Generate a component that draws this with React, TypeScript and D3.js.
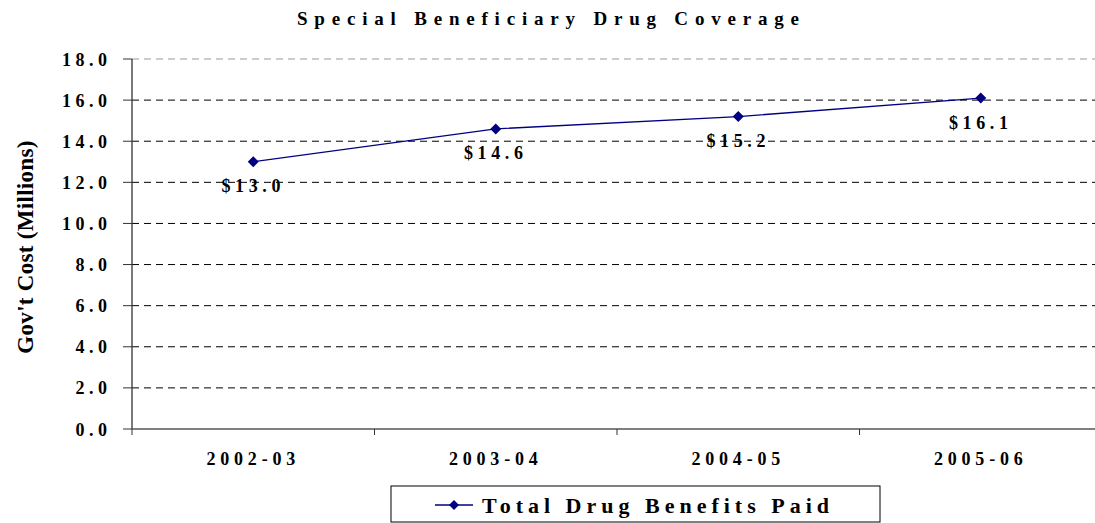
import React from "react";
import * as d3 from "d3";

const categories = ["2002-03", "2003-04", "2004-05", "2005-06"];
const values = [13.0, 14.6, 15.2, 16.1];
const valueLabels = ["$13.0", "$14.6", "$15.2", "$16.1"];
const yTicks = [0, 2, 4, 6, 8, 10, 12, 14, 16, 18];
const title = "Special Beneficiary Drug Coverage";
const yTitle = "Gov't Cost (Millions)";
const seriesName = "Total Drug Benefits Paid";

const W = 1095;
const H = 523;
const FONT = "'Liberation Serif', 'Times New Roman', serif";

export default function App() {
  const left = 132;
  const band = 242.5;
  const x = d3
    .scaleBand<string>()
    .domain(categories)
    .range([left, left + band * categories.length])
    .paddingInner(0)
    .paddingOuter(0);
  const y = d3.scaleLinear().domain([0, 18]).range([429, 59]);
  const cx = (c: string) => (x(c) as number) + x.bandwidth() / 2;

  const line = d3
    .line<number>()
    .x((_, i) => cx(categories[i]))
    .y((v) => y(v));

  const diamond = (px: number, py: number, r = 5.5) =>
    `M${px},${py - r}L${px + r},${py}L${px},${py + r}L${px - r},${py}Z`;

  const plotRight = W;
  const tickSp = 4.5;

  return (
    <svg
      width={W}
      height={H}
      style={{ position: "absolute", left: 0, top: 0, background: "#fff" }}
      fontFamily={FONT}
    >
      <text
        x={548 + 3.4}
        y={25}
        textAnchor="middle"
        fontSize={19}
        fontWeight="bold"
        letterSpacing={6.8}
      >
        {title}
      </text>

      {/* gridlines */}
      {yTicks.slice(1).map((t) => (
        <line
          key={t}
          x1={left}
          x2={plotRight}
          y1={y(t)}
          y2={y(t)}
          stroke={t === 18 ? "#999" : "#000"}
          strokeWidth={1}
          strokeDasharray="7,5"
        />
      ))}

      {/* y axis */}
      <line x1={left} x2={left} y1={y(18)} y2={y(0)} stroke="#333" strokeWidth={1.3} />
      {yTicks.map((t) => (
        <g key={t}>
          <line x1={left - 9} x2={left} y1={y(t)} y2={y(t)} stroke="#333" />
          <text
            x={107 + tickSp}
            y={y(t) + 6.5}
            textAnchor="end"
            fontSize={18}
            fontWeight="bold"
            letterSpacing={tickSp}
          >
            {t.toFixed(1)}
          </text>
        </g>
      ))}

      {/* x axis */}
      <line x1={left} x2={plotRight} y1={y(0)} y2={y(0)} stroke="#555" strokeWidth={1.5} />
      {categories.map((c) => (
        <g key={c}>
          <line
            x1={x(c) as number}
            x2={x(c) as number}
            y1={y(0)}
            y2={y(0) + 6}
            stroke="#333"
          />
          <text
            x={cx(c)}
            y={465}
            textAnchor="middle"
            fontSize={18}
            fontWeight="bold"
            letterSpacing={4.8}
          >
            {c}
          </text>
        </g>
      ))}

      {/* y title */}
      <text
        transform={`translate(33,247) rotate(-90)`}
        textAnchor="middle"
        fontSize={23}
        fontWeight="bold"
        letterSpacing={0.3}
      >
        {yTitle}
      </text>

      {/* series */}
      <path d={line(values) || ""} fill="none" stroke="#000080" strokeWidth={1.3} />
      {values.map((v, i) => (
        <path key={i} d={diamond(cx(categories[i]), y(v))} fill="#000080" />
      ))}
      {values.map((v, i) => (
        <text
          key={i}
          x={cx(categories[i])}
          y={y(v) + 30.5}
          textAnchor="middle"
          fontSize={18}
          fontWeight="bold"
          letterSpacing={4.6}
        >
          {valueLabels[i]}
        </text>
      ))}

      {/* legend */}
      <rect x={391} y={486} width={489} height={36} fill="#fff" stroke="#000" strokeWidth={1} />
      <line x1={435} x2={473} y1={505} y2={505} stroke="#000080" strokeWidth={1.3} />
      <path d={diamond(454, 505, 5)} fill="#000080" />
      <text x={482} y={513} fontSize={22} fontWeight="bold" letterSpacing={5}>
        {seriesName}
      </text>
    </svg>
  );
}
